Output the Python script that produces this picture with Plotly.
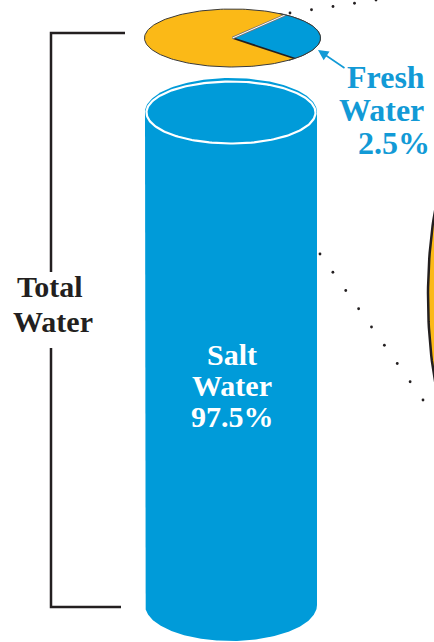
import numpy as np
import plotly.graph_objects as go

# ---- data ----
categories = ["Salt Water", "Fresh Water"]
percent = [97.5, 2.5]
total_label = ["Total", "Water"]

# ---- style / geometry ----
W, H = 434, 642
BLUE = "#009BD9"
TEXT_BLUE = "#129AD6"
YELLOW = "#FBB917"
DARK = "#231F20"
FONT = "Liberation Serif"

fig = go.Figure()


def ell(cx, cy, a, b, t0=0, t1=360, n=200):
    t = np.radians(np.linspace(t0, t1, n))
    return cx + a * np.cos(t), cy - b * np.sin(t)


def poly(x, y, fill, line_color=None, lw=0):
    fig.add_trace(go.Scatter(
        x=list(x), y=list(y), mode="lines", fill="toself", fillcolor=fill,
        line=dict(color=line_color or fill, width=lw), hoverinfo="skip",
        showlegend=False))


def line(x, y, color, lw, dash=None):
    fig.add_trace(go.Scatter(
        x=list(x), y=list(y), mode="lines",
        line=dict(color=color, width=lw, dash=dash),
        hoverinfo="skip", showlegend=False))


# right partial (zoomed) pie
ex, ey = ell(488, 296, 60, 183)
poly(ex, ey, YELLOW, DARK, 2.5)

# cylinder (salt water)
cx, top_y, bot_y, ca = 231, 112, 605, 86
bx, by = ell(cx, bot_y, ca, 36, 180, 360)
xs = [cx - ca] + list(bx) + [cx + ca]
ys = [top_y] + list(by) + [top_y]
poly(xs, ys, BLUE)
tx, ty = ell(cx, top_y, ca, 34)
poly(tx, ty, BLUE)
wx, wy = ell(cx, top_y + 0.5, ca - 1.5, 31)
line(wx, wy, "white", 2.2)

# top pie (fresh vs salt) - elliptical, exaggerated wedge for display
pcx, pcy, pa, pb = 232.5, 38, 88, 29
wedge_start, wedge_end = -45, 53
px, py = ell(pcx, pcy, pa, pb)
poly(px, py, YELLOW, "#3a3a3a", 1)
wxs, wys = ell(pcx, pcy, pa, pb, wedge_start, wedge_end, 80)
poly([pcx] + list(wxs) + [pcx], [pcy] + list(wys) + [pcy], BLUE)
line([wxs[0], pcx], [wys[0], pcy], DARK, 1.8)
line([pcx, wxs[-1]], [pcy, wys[-1]], "#777777", 2.6)
line([pcx, wxs[-1]], [pcy, wys[-1]], "white", 1)
ox, oy = ell(pcx, pcy, pa, pb, wedge_start - 5, wedge_end + 5, 60)
line(ox, oy, "#3a3a3a", 1)

# dotted leader lines
for (x0, y0, x1, y1, n) in [(290, 13, 376, 0, 5), (320, 254, 423, 400, 9)]:
    fig.add_trace(go.Scatter(
        x=list(np.linspace(x0, x1, n)), y=list(np.linspace(y0, y1, n)),
        mode="markers", marker=dict(color=DARK, size=2.8),
        hoverinfo="skip", showlegend=False))

# bracket
line([125, 51, 51], [33, 33, 272], DARK, 2.5)
line([51, 51, 121], [348, 607, 607], DARK, 2.5)

annotations = []


def txt(s, x, y, size, color, xanchor="center"):
    annotations.append(dict(
        text=f"<b>{s}</b>", x=x, y=y, xref="x", yref="y", showarrow=False,
        xanchor=xanchor, yanchor="middle",
        font=dict(family=FONT, size=size, color=color)))


# Total Water
for i, (s, x) in enumerate(zip(total_label, [50, 52.5])):
    txt(s, x, 286 + i * 35, 30, DARK)

# Salt Water
salt_lines = categories[0].split() + [f"{percent[0]}%"]
for i, s in enumerate(salt_lines):
    txt(s, 232, 354 + i * 31, 30, "white")

# Fresh Water
fresh_lines = categories[1].split() + [f"{percent[1]}%"]
for i, (s, x) in enumerate(zip(fresh_lines, [386, 381.5, 393.5])):
    txt(s, x, 77 + i * 33, 32, TEXT_BLUE)

# arrow
annotations.append(dict(
    x=318, y=50, ax=346, ay=69, xref="x", yref="y", axref="x", ayref="y",
    text="", showarrow=True, arrowhead=2, arrowsize=1.3, arrowwidth=1.6,
    arrowcolor=TEXT_BLUE))

fig.update_layout(
    width=W, height=H, margin=dict(l=0, r=0, t=0, b=0),
    paper_bgcolor="white", plot_bgcolor="white",
    xaxis=dict(range=[0, W], visible=False, fixedrange=True),
    yaxis=dict(range=[H, 0], visible=False, fixedrange=True),
    annotations=annotations, showlegend=False)

fig.write_html(
    "out.html", config={"displayModeBar": False},
    post_script="document.body.style.margin='0';document.body.style.overflow='hidden';")
